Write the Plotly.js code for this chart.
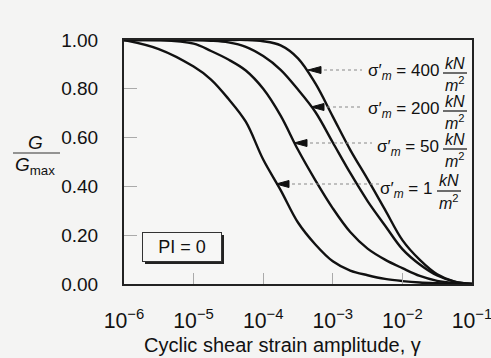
<!DOCTYPE html>
<html>
<head>
<meta charset="utf-8">
<script src="https://cdn.plot.ly/plotly-3.0.1.min.js"></script>
<style>html,body{margin:0;padding:0;background:#f4f4f3;}#chart{width:491px;height:358px;}</style>
</head>
<body>
<div id="chart"></div>
<script>
// Cyclic shear strain amplitude (gamma)
const gamma = [1e-6, 3.16e-6, 1e-5, 1.78e-5, 3.16e-5, 5.62e-5, 1e-4, 1.78e-4, 3.16e-4, 5.62e-4,
               1e-3, 1.78e-3, 3.16e-3, 5.62e-3, 1e-2, 1.78e-2, 3.16e-2, 5.62e-2, 1e-1];
// G/Gmax for each mean effective confining stress (PI = 0)
const ratio_1kPa   = [1.000, 0.963, 0.891, 0.838, 0.759, 0.665, 0.510, 0.385, 0.252, 0.162, 0.093, 0.055, 0.036, 0.021, 0.012, 0.006, 0.003, 0.001, 0.000];
const ratio_50kPa  = [1.000, 1.000, 0.985, 0.955, 0.920, 0.875, 0.800, 0.690, 0.550, 0.425, 0.310, 0.213, 0.145, 0.100, 0.065, 0.033, 0.013, 0.004, 0.000];
const ratio_200kPa = [1.000, 1.000, 1.000, 0.997, 0.990, 0.972, 0.934, 0.878, 0.797, 0.705, 0.580, 0.455, 0.340, 0.240, 0.143, 0.080, 0.035, 0.010, 0.000];
const ratio_400kPa = [1.000, 1.000, 1.000, 1.000, 1.000, 1.000, 0.995, 0.978, 0.925, 0.822, 0.686, 0.550, 0.430, 0.305, 0.180, 0.099, 0.040, 0.010, 0.000];
const stressLabels = ['400', '200', '50', '1'];
const yTickVals = [0, 0.2, 0.4, 0.6, 0.8, 1.0];
const yTickText = ['0.00', '0.20', '0.40', '0.60', '0.80', '1.00'];

// layout helpers (plot area in pixels)
const L = 124, R = 472, T = 40, B = 284;
const px = x => (x - L) / (R - L);
const py = y => (B - y) / (B - T);
const FONT = 'Liberation Sans, Arial, Helvetica, sans-serif';

const series = [ratio_1kPa, ratio_50kPa, ratio_200kPa, ratio_400kPa];
const names = ['σ′m = 1 kN/m²', 'σ′m = 50 kN/m²', 'σ′m = 200 kN/m²', 'σ′m = 400 kN/m²'];
const traces = series.map((s, i) => ({
  x: gamma, y: s, type: 'scatter', mode: 'lines', name: names[i],
  line: {color: '#111', width: 2.4, shape: 'spline', smoothing: 1.0},
  hoverinfo: 'skip'
}));

// label geometry (pixels): [textCenterY, numberRightX, fracCenterX, arrowTipX, arrowTipY, arrowTailX]
const labelGeom = [
  [72, 441, 455, 308, 70, 362],
  [110, 441, 455, 311, 107, 362],
  [148, 441, 455, 294, 143, 372],
  [190, 434, 449, 276, 184, 382]
];

const annotations = [];
const shapes = [];
stressLabels.forEach((lab, i) => {
  const g = labelGeom[i];
  annotations.push({xref: 'paper', yref: 'paper', x: px(g[1]), y: py(g[0]), xanchor: 'right', yanchor: 'middle',
    text: 'σ\u2032<sub><i>m</i></sub> = ' + lab, showarrow: false, font: {family: FONT, size: 17, color: '#111'}});
  annotations.push({xref: 'paper', yref: 'paper', x: px(g[2]), y: py(g[0] - 9), xanchor: 'center', yanchor: 'middle',
    text: '<i>kN</i>', showarrow: false, font: {family: FONT, size: 16, color: '#111'}});
  annotations.push({xref: 'paper', yref: 'paper', x: px(g[2]), y: py(g[0] + 12), xanchor: 'center', yanchor: 'middle',
    text: '<i>m</i><sup>2</sup>', showarrow: false, font: {family: FONT, size: 16, color: '#111'}});
  shapes.push({type: 'line', xref: 'paper', yref: 'paper', x0: px(g[2] - 12), x1: px(g[2] + 12),
    y0: py(g[0] + 1), y1: py(g[0] + 1), line: {color: '#111', width: 1.2}});
  // gray dotted leader line
  shapes.push({type: 'line', xref: 'paper', yref: 'paper', x0: px(g[3] + 10), x1: px(g[5]),
    y0: py(g[4]), y1: py(g[4]), line: {color: '#888', width: 1, dash: 'dot'}});
  // black arrowhead
  const tip = [px(g[3]), py(g[4])];
  const back = px(g[3] + 13), up = py(g[4] - 3.5), dn = py(g[4] + 3.5);
  shapes.push({type: 'path', xref: 'paper', yref: 'paper',
    path: `M ${tip[0]},${tip[1]} L ${back},${up} L ${back},${dn} Z`,
    fillcolor: '#111', line: {color: '#111', width: 1}});
});

// y title G / Gmax
annotations.push({xref: 'paper', yref: 'paper', x: px(36), y: py(142), text: '<i>G</i>', showarrow: false,
  xanchor: 'center', yanchor: 'middle', font: {family: FONT, size: 19, color: '#111'}});
annotations.push({xref: 'paper', yref: 'paper', x: px(35), y: py(166), text: '<i>G</i><sub>max</sub>', showarrow: false,
  xanchor: 'center', yanchor: 'middle', font: {family: FONT, size: 19, color: '#111'}});
shapes.push({type: 'line', xref: 'paper', yref: 'paper', x0: px(13), x1: px(60), y0: py(153), y1: py(153),
  line: {color: '#333', width: 1.2}});

// x title
annotations.push({xref: 'paper', yref: 'paper', x: px(282), y: py(345), text: 'Cyclic shear strain amplitude, γ',
  showarrow: false, xanchor: 'center', yanchor: 'middle', font: {family: FONT, size: 20, color: '#111'}});

// PI = 0 box with shadow
shapes.push({type: 'rect', xref: 'paper', yref: 'paper', x0: px(145), x1: px(224), y0: py(264), y1: py(235),
  fillcolor: '#222', line: {width: 0}, layer: 'above'});
annotations.push({xref: 'paper', yref: 'paper', x: px(182), y: py(247), text: 'PI = 0', showarrow: false,
  xanchor: 'center', yanchor: 'middle', width: 76, height: 26, bgcolor: '#f7f7f6', bordercolor: '#333', borderwidth: 1,
  font: {family: FONT, size: 18, color: '#111'}});

const layout = {
  width: 491, height: 358,
  margin: {l: L, r: 491 - R, t: T, b: 358 - B},
  paper_bgcolor: '#f4f4f3', plot_bgcolor: '#f6f6f5',
  showlegend: false,
  font: {family: FONT, color: '#111'},
  xaxis: {
    type: 'log', range: [-6, -1], dtick: 1, exponentformat: 'power', showexponent: 'all',
    ticklabeloverflow: 'allow',
    showgrid: false, zeroline: false, showline: true, mirror: true, linecolor: '#222', linewidth: 2,
    ticks: 'inside', ticklen: 11, tickwidth: 1, tickcolor: '#aaa', ticklabelstandoff: 17,
    tickfont: {family: FONT, size: 17, color: '#111'}
  },
  yaxis: {
    range: [0, 1], tickvals: yTickVals, ticktext: yTickText,
    showgrid: false, zeroline: false, showline: true, mirror: true, linecolor: '#222', linewidth: 2,
    ticks: 'inside', ticklen: 13, tickwidth: 1, tickcolor: '#aaa', ticklabelstandoff: 20,
    tickfont: {family: FONT, size: 19, color: '#111'}
  },
  annotations: annotations,
  shapes: shapes
};

Plotly.newPlot('chart', traces, layout, {displayModeBar: false, staticPlot: true});
</script>
</body>
</html>
